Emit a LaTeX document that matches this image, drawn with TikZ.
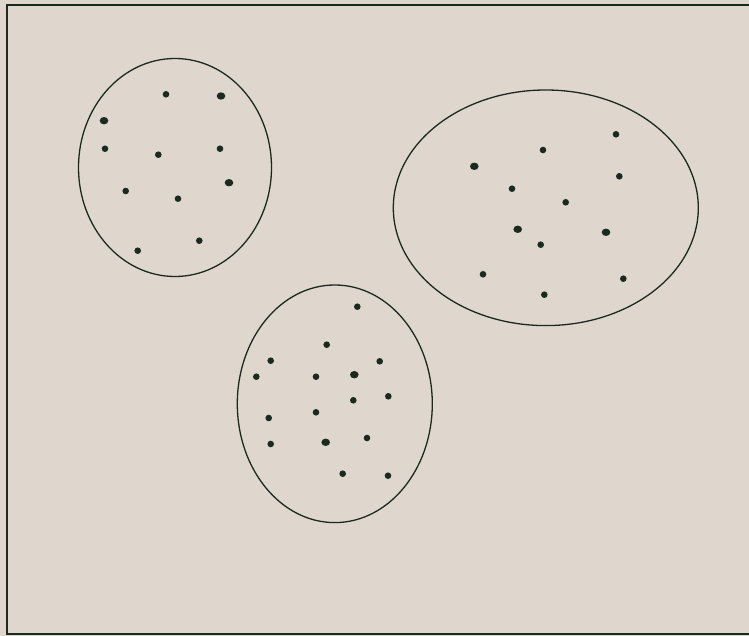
\documentclass[tikz,border=0pt]{standalone}
\begin{document}
\begin{tikzpicture}[x=1pt,y=-1pt,
  ink/.style={draw=inkc,line width=1.3pt},
  dot/.style={fill=inkc},
]
\definecolor{bgc}{HTML}{DFD6CE}
\definecolor{inkc}{HTML}{1B2A1F}
\useasboundingbox (0,0) rectangle (749,636);
\fill[bgc] (0,0) rectangle (749,636);
% frame (open to the right)
\draw[draw=inkc,line width=2pt] (752,4.8) -- (6.5,4.8) -- (6.5,633.8) -- (752,633.8);
% clusters
\draw[ink] (175,167.5) ellipse (96.5 and 109);
\draw[ink] (334.8,403.8) ellipse (97.5 and 118.8);
\draw[ink] (545.8,207.8) ellipse (152.5 and 117.8);
% small dots
\foreach \p in {(166,94.3),(105,148.7),(158.3,154.7),(220,148.7),(125.7,191),(178,198.7),(199.3,240.7),(137.7,250.7),
  (357.3,306.7),(326.7,344.7),(270.7,360.7),(379.7,361.3),(256.3,376.7),(316,376.7),(388.3,396.3),(353.3,400.3),
  (268.7,418),(316,412.3),(270.7,444),(367,438),(342.7,473.7),(388,475.7),
  (616,134.3),(543,150),(619.3,176.3),(512,188.7),(565.7,202.3),(540.7,244.7),(483,274.3),(623.3,278.7),(544.3,294.7)}
  \fill[dot] \p circle (3.3);
% larger dots
\foreach \p in {(221,96),(104,120.7),(229,182.7),(354.3,374.7),(325.7,442.3),(474.3,166.3),(517.7,229.3),(606,232.3)}
  \fill[dot] \p ellipse (4.3 and 3.7);
\end{tikzpicture}
\end{document}
